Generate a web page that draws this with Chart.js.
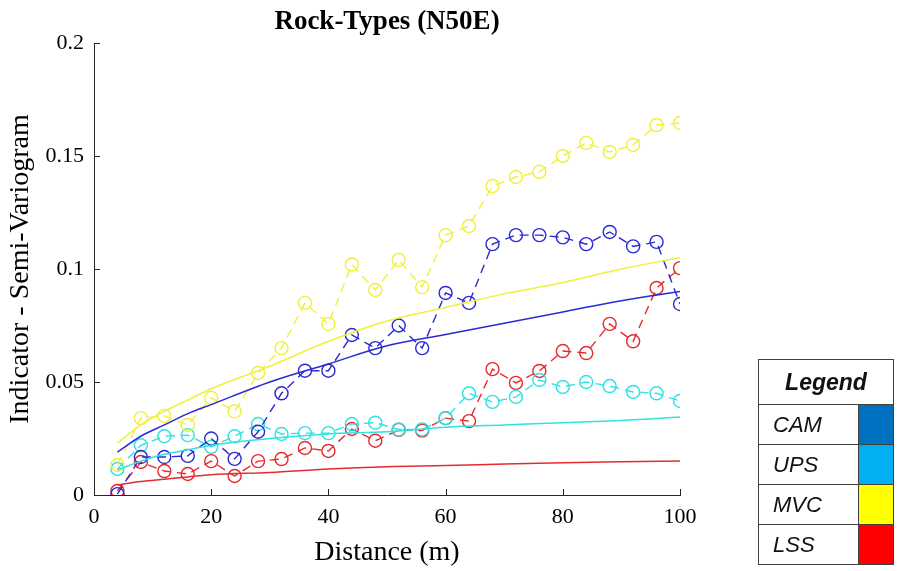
<!DOCTYPE html>
<html>
<head>
<meta charset="utf-8">
<script src="https://cdn.jsdelivr.net/npm/chart.js@4.4.1/dist/chart.umd.min.js"></script>
<style>
  html, body { margin: 0; padding: 0; background: #fff; }
  #wrap { position: relative; width: 898px; height: 571px; }
  #legend {
    position: absolute; left: 758px; top: 359px; width: 136px;
    border-collapse: collapse; font-family: 'Liberation Sans', Arial, sans-serif;
    font-style: italic; font-size: 22px; color: #111;
  }
  #legend td { border: 1.5px solid #404040; padding: 0; }
  #legend th { border: 1.5px solid #404040; height: 42px; font-weight: bold; font-size: 23px; }
  #legend td.name { height: 39px; padding-left: 14px; }
  #legend td.sw { width: 34px; }
</style>
</head>
<body>
<div id="wrap">
  <canvas id="chart" width="898" height="571"></canvas>
  <table id="legend">
    <tr><th colspan="2">Legend</th></tr>
  </table>
</div>
<script>
// distances of the experimental points (m)
const lags = [4, 8, 12, 16, 20, 24, 28, 32, 36, 40, 44, 48, 52, 56, 60, 64, 68, 72, 76, 80, 84, 88, 92, 96, 100];

// experimental indicator semi-variograms
const camPoints = [0.0004, 0.0168, 0.0168, 0.0173, 0.025, 0.016, 0.028, 0.045, 0.055, 0.055, 0.0708, 0.065, 0.075, 0.065, 0.0894, 0.085, 0.111, 0.115, 0.115, 0.114, 0.111, 0.1164, 0.110, 0.112, 0.0845];
const upsPoints = [0.0115, 0.022, 0.026, 0.0265, 0.0213, 0.026, 0.0314, 0.027, 0.0274, 0.0274, 0.0314, 0.032, 0.029, 0.029, 0.034, 0.045, 0.0412, 0.0434, 0.0509, 0.0478, 0.050, 0.0482, 0.0456, 0.045, 0.0416];
const mvcPoints = [0.0133, 0.034, 0.035, 0.031, 0.043, 0.037, 0.054, 0.065, 0.085, 0.0757, 0.102, 0.0907, 0.104, 0.092, 0.115, 0.119, 0.1367, 0.1407, 0.143, 0.150, 0.1558, 0.1518, 0.1549, 0.1637, 0.1646];
const lssPoints = [0.0018, 0.0146, 0.0106, 0.0093, 0.015, 0.0084, 0.015, 0.0159, 0.0208, 0.0195, 0.0292, 0.024, 0.0288, 0.0285, 0.034, 0.0327, 0.0557, 0.0496, 0.0549, 0.0637, 0.0628, 0.0757, 0.068, 0.0916, 0.1004];

// fitted model curves, read at these distances
const modelLags = [4, 8, 12, 16, 20, 30, 40, 50, 60, 70, 80, 90, 100];
const camModel = [0.019, 0.026, 0.031, 0.036, 0.040, 0.050, 0.058, 0.066, 0.071, 0.076, 0.081, 0.086, 0.090];
const upsModel = [0.011, 0.015, 0.018, 0.020, 0.022, 0.025, 0.027, 0.028, 0.030, 0.031, 0.032, 0.033, 0.0345];
const mvcModel = [0.023, 0.031, 0.037, 0.042, 0.047, 0.057, 0.068, 0.077, 0.083, 0.089, 0.094, 0.100, 0.105];
const lssModel = [0.0045, 0.006, 0.007, 0.008, 0.009, 0.010, 0.0115, 0.0125, 0.013, 0.0137, 0.0143, 0.0147, 0.015];

const xTicks = [0, 20, 40, 60, 80, 100];
const yTickLabels = ['0', '0.05', '0.1', '0.15', '0.2'];

const rockTypes = ['CAM', 'UPS', 'MVC', 'LSS'];
const legendColors = ['#0070C0', '#00B0F0', '#FFFF00', '#FF0000'];

const lineColors = {
  CAM: '#2a2ad4',
  UPS: '#2ee2e2',
  MVC: '#f0f03a',
  LSS: '#e62a2e',
};

const pts = (xs, ys) => xs.map((x, i) => ({ x: x, y: ys[i] }));

const empirical = (name, ys) => ({
  label: name,
  data: pts(lags, ys),
  borderColor: lineColors[name],
  borderWidth: 1.4,
  borderDash: [9, 6],
  pointStyle: 'circle',
  pointRadius: 6.5,
  pointBorderWidth: 1.4,
  pointBorderColor: lineColors[name],
  pointBackgroundColor: 'rgba(0,0,0,0)',
  tension: 0,
});

const model = (name, ys) => ({
  label: name + ' model',
  data: pts(modelLags, ys),
  borderColor: lineColors[name],
  borderWidth: 1.5,
  pointRadius: 0,
  cubicInterpolationMode: 'monotone',
});

// legend table
const table = document.getElementById('legend');
rockTypes.forEach((name, i) => {
  const tr = document.createElement('tr');
  tr.innerHTML = '<td class="name">' + name + '</td><td class="sw" style="background:' + legendColors[i] + '"></td>';
  table.appendChild(tr);
});

// MATLAB style ticks pointing into the axes, plus the title
const matlabAxes = {
  id: 'matlabAxes',
  afterDraw(chart) {
    const { ctx, chartArea, scales } = chart;
    ctx.save();
    ctx.strokeStyle = '#262626';
    ctx.lineWidth = 1;
    ctx.beginPath();
    scales.x.ticks.forEach(t => {
      const px = Math.round(scales.x.getPixelForValue(t.value)) + 0.5;
      ctx.moveTo(px, chartArea.bottom);
      ctx.lineTo(px, chartArea.bottom - 6);
    });
    scales.y.ticks.forEach(t => {
      const py = Math.round(scales.y.getPixelForValue(t.value)) + 0.5;
      ctx.moveTo(chartArea.left, py);
      ctx.lineTo(chartArea.left + 6, py);
    });
    ctx.stroke();
    ctx.fillStyle = '#000';
    ctx.font = 'bold 27px "Liberation Serif"';
    ctx.textAlign = 'center';
    ctx.textBaseline = 'middle';
    ctx.fillText('Rock-Types (N50E)', (chartArea.left + chartArea.right) / 2, 22);
    ctx.restore();
  }
};

Chart.defaults.font.family = '"Liberation Serif", "Times New Roman", serif';
Chart.defaults.color = '#000';

new Chart(document.getElementById('chart'), {
  type: 'line',
  data: {
    datasets: [
      model('CAM', camModel),
      model('UPS', upsModel),
      model('MVC', mvcModel),
      model('LSS', lssModel),
      empirical('MVC', mvcPoints),
      empirical('CAM', camPoints),
      empirical('UPS', upsPoints),
      empirical('LSS', lssPoints),
    ],
  },
  options: {
    responsive: false,
    animation: false,
    layout: {
      padding: { top: 43, right: 218, bottom: 0, left: 0 },
    },
    scales: {
      x: {
        type: 'linear',
        min: 0,
        max: 100,
        afterFit: (scale) => { scale.height = 76; },
        afterBuildTicks: (scale) => { scale.ticks = xTicks.map(v => ({ value: v })); },
        border: { display: true, color: '#262626', width: 1 },
        grid: { display: false, drawTicks: false },
        ticks: { font: { size: 22 }, padding: 9, maxRotation: 0 },
        title: { display: true, text: 'Distance (m)', font: { size: 28 }, padding: { top: 0, bottom: 2 } },
      },
      y: {
        min: 0,
        max: 0.2,
        afterFit: (scale) => { scale.width = 94; },
        border: { display: true, color: '#262626', width: 1 },
        grid: { display: false, drawTicks: false },
        ticks: {
          stepSize: 0.05,
          font: { size: 22 },
          padding: 10,
          callback: (v, i) => yTickLabels[i],
        },
        title: { display: true, text: 'Indicator - Semi-Variogram', font: { size: 28 }, padding: { top: 4, bottom: 0 } },
      },
    },
    plugins: {
      legend: { display: false },
      tooltip: { enabled: false },
    },
  },
  plugins: [matlabAxes],
});
</script>
</body>
</html>
